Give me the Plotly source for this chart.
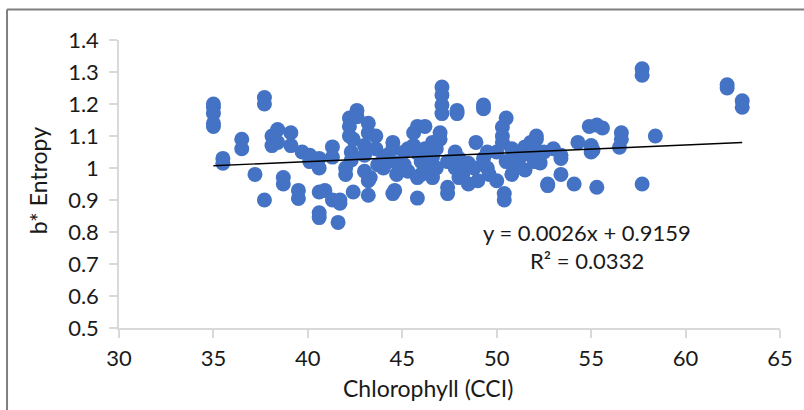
import plotly.graph_objects as go

# Data
chlorophyll = [
    35.0, 35.0, 35.0, 35.0, 35.0,
    35.5, 35.5,
    36.5, 36.5,
    37.2,
    37.7, 37.7, 37.7,
    38.1, 38.1,
    38.4, 38.4,
    38.7, 38.7,
    39.1, 39.1,
    39.5, 39.5,
    39.7,
    40.1, 40.1,
    40.6, 40.6, 40.6, 40.6, 40.6,
    40.9,
    41.3, 41.3, 41.3,
    41.6,
    41.7, 41.7,
    42.0, 42.0,
    42.2, 42.2, 42.2,
    42.4, 42.4,
    42.3, 42.3,
    42.6, 42.6,
    43.0, 43.0, 43.0,
    43.2, 43.2, 43.2, 43.2,
    43.6, 43.6,
    43.7,
    43.3,
    44.0, 44.0,
    44.2, 44.2,
    44.5, 44.5, 44.5,
    44.7, 44.7,
    44.6,
    45.1, 45.1,
    45.3, 45.3,
    45.6, 45.6,
    45.8, 45.8, 45.8, 45.8,
    46.0, 46.0,
    46.2, 46.2, 46.2,
    46.6, 46.6, 46.6,
    46.8, 46.8,
    47.0, 47.0,
    47.1, 47.1, 47.1, 47.1,
    47.4, 47.4, 47.4,
    47.8, 47.8,
    47.9, 47.9,
    48.0, 48.0,
    48.2,
    48.5, 48.5,
    48.8,
    48.9,
    49.0,
    49.3, 49.3, 49.3,
    49.5, 49.5,
    49.6,
    50.0, 50.0,
    50.3, 50.3, 50.3,
    50.5, 50.5,
    50.4, 50.4,
    50.8, 50.8,
    51.0, 51.0,
    51.2,
    51.5, 51.5,
    51.8, 51.8,
    52.0, 52.0,
    52.1, 52.1,
    52.3,
    52.5,
    52.7, 52.7,
    53.0,
    53.4, 53.4, 53.4,
    54.1,
    54.3,
    54.9,
    55.0, 55.0,
    55.1,
    55.3, 55.3,
    55.6,
    56.5,
    56.6, 56.6,
    57.7, 57.7, 57.7,
    58.4,
    62.2, 62.2,
    63.0, 63.0,
]
entropy = [
    1.20, 1.19, 1.17, 1.13, 1.14,
    1.03, 1.015,
    1.09, 1.06,
    0.98,
    1.22, 1.20, 0.90,
    1.10, 1.07,
    1.12, 1.08,
    0.97, 0.95,
    1.11, 1.07,
    0.93, 0.905,
    1.05,
    1.04, 1.02,
    1.03, 1.00, 0.925, 0.86, 0.845,
    0.93,
    1.066, 1.034, 0.90,
    0.83,
    0.89, 0.90,
    1.00, 0.98,
    1.156, 1.13, 1.10,
    0.925, 1.09,
    1.05, 1.025,
    1.18, 1.16,
    1.07, 1.04, 0.99,
    1.14, 1.11, 0.96, 0.915,
    1.10, 1.06,
    1.01,
    0.97,
    1.03, 1.00,
    1.04, 1.02,
    1.08, 1.06, 0.92,
    1.016, 0.98,
    0.93,
    1.01, 1.05,
    1.06, 0.99,
    1.11, 1.07,
    1.13, 1.047, 0.97, 0.906,
    1.02, 0.98,
    1.13, 1.06, 1.00,
    1.034, 0.97, 1.08,
    1.00, 1.06,
    1.11, 1.09,
    1.253, 1.228, 1.197, 1.17,
    0.94, 0.92, 1.02,
    1.00, 1.05,
    1.18, 1.17,
    1.03, 0.97,
    0.98,
    0.95, 1.015,
    1.00,
    1.08,
    0.96,
    1.197, 1.185, 1.03,
    1.05, 1.00,
    0.98,
    0.96, 1.05,
    1.128, 1.10, 1.08,
    1.156, 1.02,
    0.92, 0.90,
    1.06, 0.98,
    1.016, 1.04,
    1.03,
    1.066, 0.994,
    1.04, 1.08,
    1.06, 1.02,
    1.10, 1.09,
    1.016,
    1.05,
    0.95, 0.945,
    1.06,
    1.04, 1.03, 0.98,
    0.95,
    1.08,
    1.13,
    1.07, 1.05,
    1.056,
    1.134, 0.94,
    1.125,
    1.065,
    1.11, 1.09,
    1.31, 1.29, 0.95,
    1.10,
    1.26, 1.25,
    1.21, 1.19,
]

x_ticks = [30, 35, 40, 45, 50, 55, 60, 65]
y_ticks = [0.5, 0.6, 0.7, 0.8, 0.9, 1.0, 1.1, 1.2, 1.3, 1.4]
y_tick_text = ["0.5", "0.6", "0.7", "0.8", "0.9", "1", "1.1", "1.2", "1.3", "1.4"]

slope = 0.0026
intercept = 0.9159
equation_text = "y = 0.0026x + 0.9159"
r2_text = "R² = 0.0332"

x_title = "Chlorophyll (CCI)"
y_title = "b* Entropy"

FONT = "Lato, sans-serif"
TXT = "#1a1a1a"
AXIS_GRAY = "#D9D9D9"
TICK_SIZE = 22
TITLE_SIZE = 23
EQ_SIZE = 22

trend_x = [min(chlorophyll), max(chlorophyll)]
trend_y = [slope * v + intercept for v in trend_x]

fig = go.Figure()
fig.add_trace(go.Scatter(
    x=chlorophyll, y=entropy, mode="markers",
    marker=dict(size=15, color="#4472C4", line=dict(width=0)),
    showlegend=False, hoverinfo="skip",
))
fig.add_trace(go.Scatter(
    x=trend_x, y=trend_y, mode="lines",
    line=dict(color="black", width=1.4),
    showlegend=False, hoverinfo="skip",
))

fig.update_layout(
    width=804, height=410,
    margin=dict(l=119, r=24, t=40, b=82),
    paper_bgcolor="white", plot_bgcolor="white",
    font=dict(family=FONT, size=TICK_SIZE, color=TXT),
    xaxis=dict(
        range=[30, 65], tickvals=x_ticks, ticktext=[str(v) for v in x_ticks],
        showgrid=False, zeroline=False,
        showline=True, linecolor=AXIS_GRAY, linewidth=1.5,
        ticks="outside", ticklen=8, tickcolor=AXIS_GRAY, tickwidth=1.5,
        ticklabelstandoff=2,
        tickfont=dict(size=TICK_SIZE, family=FONT, color=TXT),
    ),
    yaxis=dict(
        range=[0.5, 1.4], tickvals=y_ticks, ticktext=y_tick_text,
        showgrid=False, zeroline=False,
        showline=True, linecolor=AXIS_GRAY, linewidth=1.5,
        ticks="outside", ticklen=8, tickcolor=AXIS_GRAY, tickwidth=1.5,
        ticklabelstandoff=6,
        tickfont=dict(size=TICK_SIZE, family=FONT, color=TXT),
    ),
    annotations=[
        dict(text=equation_text, x=54.78, y=0.80, xref="x", yref="y",
             showarrow=False, font=dict(size=EQ_SIZE, family=FONT, color=TXT)),
        dict(text=r2_text, x=54.78, y=0.71, xref="x", yref="y",
             showarrow=False, font=dict(size=EQ_SIZE, family=FONT, color=TXT)),
        dict(text=x_title, x=0.4675, y=-0.208, xref="paper", yref="paper",
             showarrow=False, xanchor="center", yanchor="middle",
             font=dict(size=TITLE_SIZE, family=FONT, color=TXT)),
        dict(text=y_title, x=-0.1225, y=0.51, xref="paper", yref="paper",
             showarrow=False, textangle=-90, xanchor="center", yanchor="middle",
             font=dict(size=TITLE_SIZE, family=FONT, color=TXT)),
    ],
    shapes=[
        dict(type="line", xref="paper", yref="paper",
             x0=-0.1694, x1=1.05, y0=1.106, y1=1.106,
             line=dict(color="#7F7F7F", width=2)),
        dict(type="line", xref="paper", yref="paper",
             x0=-0.1694, x1=-0.1694, y0=1.106, y1=-0.3,
             line=dict(color="#7F7F7F", width=2)),
    ],
)

fig.write_html("out.html")
